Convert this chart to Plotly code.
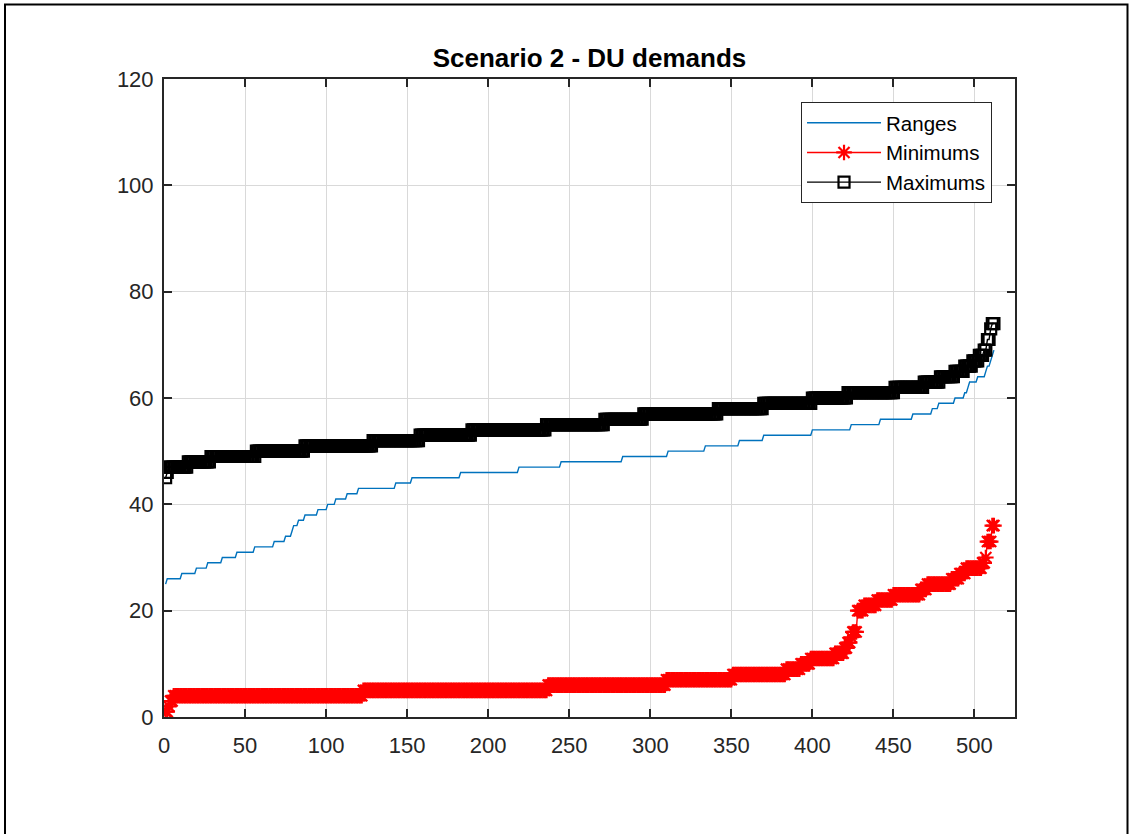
import numpy as np
import plotly.graph_objects as go

# Sorted per-item demand levels, stored as (level, run length) pairs
range_levels = [25, 26, 27, 28, 29, 30, 31, 32, 33, 34, 35, 36, 37, 38, 39, 40, 41, 42, 43, 44,
                45, 46, 47, 48, 49, 50, 51, 52, 53, 54, 55, 56, 57, 58, 59, 60, 61, 62, 63, 64,
                65, 66, 67, 68, 69]
range_counts = [1, 9, 9, 7, 9, 9, 11, 12, 7, 4, 1, 3, 4, 8, 6, 5, 7, 7, 23, 10,
                30, 36, 26, 38, 28, 23, 21, 15, 30, 24, 18, 20, 12, 4, 10, 6, 2, 1, 5, 5,
                1, 2, 1, 1, 1]

min_levels = [1, 2, 3, 4, 5, 6, 7, 8, 9, 10, 11, 12, 13, 14, 15, 16, 20, 21, 22, 23,
              24, 25, 26, 27, 28, 29, 30, 33, 36]
min_counts = [2, 1, 2, 117, 114, 73, 41, 33, 9, 6, 15, 6, 2, 2, 1, 3, 4, 8, 10, 17,
              4, 15, 5, 4, 10, 2, 1, 3, 2]

max_levels = [45, 46, 47, 48, 49, 50, 51, 52, 53, 54, 55, 56, 57, 58, 59, 60, 61, 62, 63, 64,
              65, 66, 67, 68, 69, 71, 73, 74]
max_counts = [1, 1, 12, 14, 28, 30, 42, 29, 32, 46, 36, 24, 46, 28, 30, 22, 29, 18, 10, 9,
              6, 5, 4, 3, 2, 2, 1, 2]

x_ticks = [0, 50, 100, 150, 200, 250, 300, 350, 400, 450, 500]
y_ticks = [0, 20, 40, 60, 80, 100, 120]

ranges = np.repeat(range_levels, range_counts)
minimums = np.repeat(min_levels, min_counts)
maximums = np.repeat(max_levels, max_counts)
idx = np.arange(1, len(ranges) + 1)

AX = "#262626"
FONT = "Liberation Sans, Arial, sans-serif"

fig = go.Figure()
fig.add_trace(go.Scatter(
    x=idx, y=ranges, mode="lines", name="Ranges",
    line=dict(color="#0072BD", width=1.4),
))
fig.add_trace(go.Scatter(
    x=idx, y=minimums, mode="lines+markers", name="Minimums",
    line=dict(color="#FF0000", width=1.4),
    marker=dict(symbol="asterisk-open", size=13, color="#FF0000",
                line=dict(color="#FF0000", width=2.2)),
))
fig.add_trace(go.Scatter(
    x=idx, y=maximums, mode="lines+markers", name="Maximums",
    line=dict(color="#000000", width=1.4),
    marker=dict(symbol="square-open", size=11, color="#000000",
                line=dict(color="#000000", width=2.2)),
))

axis_common = dict(
    showline=True, linecolor=AX, linewidth=2, mirror="ticks",
    ticks="inside", ticklen=8, tickwidth=2, tickcolor=AX,
    showgrid=True, gridcolor="#D9D9D9", gridwidth=1,
    zeroline=False,
    tickfont=dict(family=FONT, size=22, color=AX),
)

fig.update_xaxes(range=[0, 525], tickvals=x_ticks, ticklabelstandoff=8, **axis_common)
fig.update_yaxes(range=[0, 120], tickvals=y_ticks, ticklabelstandoff=4, **axis_common)

fig.update_layout(
    width=1132, height=834,
    margin=dict(l=164, r=117, t=79, b=117),
    paper_bgcolor="white", plot_bgcolor="white",
    title=dict(text="<b>Scenario 2 - DU demands</b>", x=589.5 / 1132, xanchor="center",
               y=1 - 58 / 834, yanchor="middle",
               font=dict(family=FONT, size=26, color="#000000")),
    legend=dict(
        x=0.973, xanchor="right", y=0.964, yanchor="top",
        bgcolor="white", bordercolor=AX, borderwidth=1,
        font=dict(family=FONT, size=20.5, color="#000000"),
        itemwidth=74, tracegroupgap=0,
    ),
    shapes=[dict(type="rect", xref="paper", yref="paper",
                 x0=(5 - 164) / 851, x1=(1127.5 - 164) / 851,
                 y0=(717 - 840) / 638, y1=(717 - 4.5) / 638,
                 line=dict(color="#000000", width=2), layer="below")],
)

fig.write_html("out.html")
